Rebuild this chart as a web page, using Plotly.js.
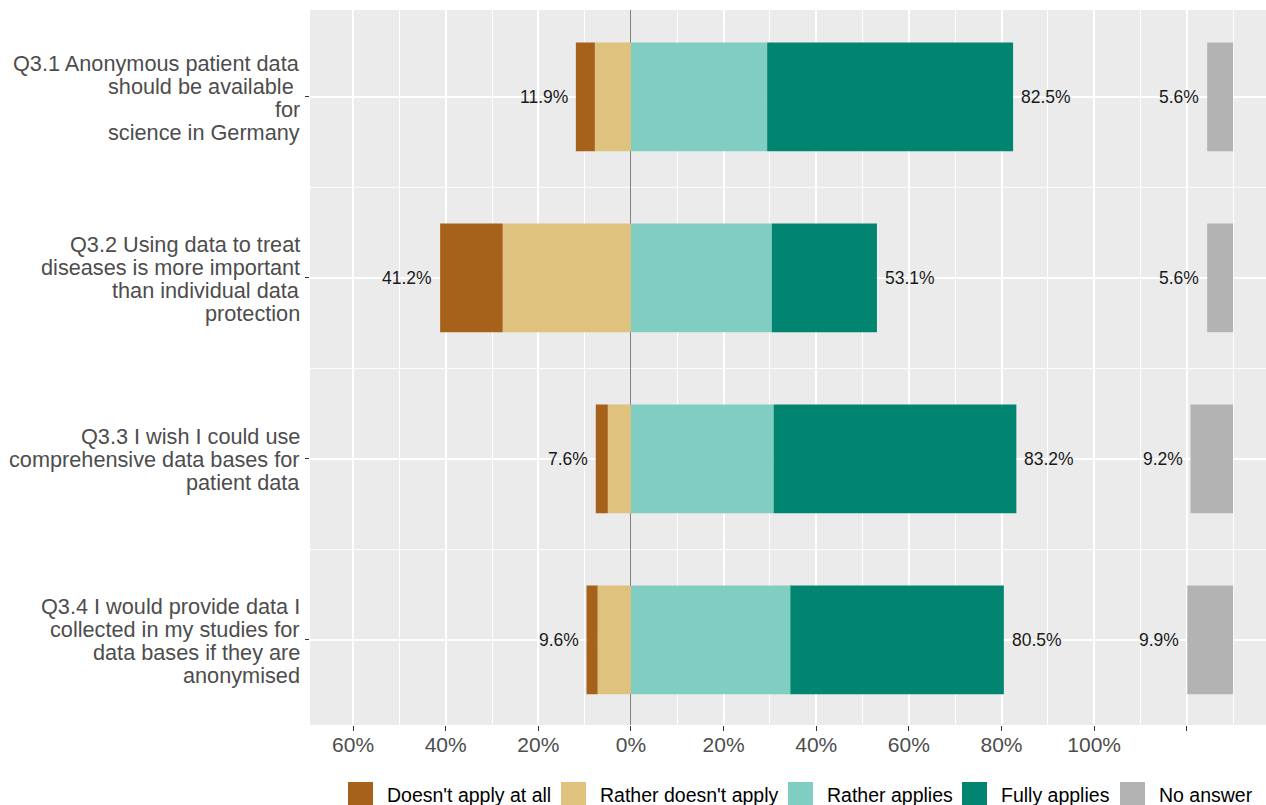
<!DOCTYPE html>
<html>
<head>
<meta charset="utf-8">
<script src="https://cdn.plot.ly/plotly-3.0.1.min.js"></script>
<style>
  html, body { margin: 0; padding: 0; background: #ffffff; }
  #chart { width: 1266px; height: 805px; }
</style>
</head>
<body>
<div id="chart"></div>
<script>
// ---- Data (percent of respondents) ----
const categories = [
  "Q3.1 Anonymous patient data<br>should be available\u00a0<br>for<br>science in Germany",
  "Q3.2 Using data to treat<br>diseases is more important<br>than individual data<br>protection",
  "Q3.3 I wish I could use<br>comprehensive data bases for<br>patient data",
  "Q3.4 I would provide data I<br>collected in my studies for<br>data bases if they are<br>anonymised"
];
const doesntApplyAtAll  = [4.1, 13.5, 2.6, 2.4];
const ratherDoesntApply = [7.8, 27.7, 5.0, 7.2];
const ratherApplies     = [29.4, 30.4, 30.8, 34.4];
const fullyApplies      = [53.1, 22.7, 52.4, 46.1];
const noAnswer          = [5.6, 5.6, 9.2, 9.9];

const legendNames = ["Doesn't apply at all", "Rather doesn't apply", "Rather applies", "Fully applies", "No answer"];
const legendColors = ["#A6611A", "#DFC27D", "#80CDC1", "#018571", "#B3B3B3"];

const xTickVals = [-60, -40, -20, 0, 20, 40, 60, 80, 100, 120];
const xTickText = ["60%", "40%", "20%", "0%", "20%", "40%", "60%", "80%", "100%", ""];
const xMinorVals = [-70, -50, -30, -10, 10, 30, 50, 70, 90, 110, 130];

// "No answer" bars are drawn in a right-hand block ending at this axis value
const NA_END = 130;

// ---- Geometry helpers (layout only) ----
const W = 1266, H = 805;
const M = { l: 310, r: 0, t: 10, b: 80 };
const PW = W - M.l - M.r, PH = H - M.t - M.b;
const px2paperX = px => (px - M.l) / PW;
const px2paperY = py => (H - M.b - py) / PH;
const FONT = "Liberation Sans, Arial, sans-serif";

const fmt = v => v.toFixed(1) + "%";
const BAR_W = 0.6;

function barTrace(name, color, values, bases) {
  return {
    type: "bar", orientation: "h", name: name,
    y: categories, x: values, base: bases,
    width: BAR_W,
    marker: { color: color, line: { width: 0 } },
    hoverinfo: "skip", showlegend: false
  };
}

const negInner = ratherDoesntApply.map(v => -v);
const negOuterBase = categories.map((_, i) => -(ratherDoesntApply[i] + doesntApplyAtAll[i]));
const zeros = categories.map(() => 0);
const naBase = noAnswer.map(v => NA_END - v);

const traces = [
  barTrace(legendNames[1], legendColors[1], ratherDoesntApply, negInner),
  barTrace(legendNames[0], legendColors[0], doesntApplyAtAll, negOuterBase),
  barTrace(legendNames[2], legendColors[2], ratherApplies, zeros),
  barTrace(legendNames[3], legendColors[3], fullyApplies, ratherApplies),
  barTrace(legendNames[4], legendColors[4], noAnswer, naBase)
];

// ---- Value annotations ----
const annotations = [];
const valFont = { family: FONT, size: 17.5, color: "#1a1a1a" };
categories.forEach((c, i) => {
  const neg = doesntApplyAtAll[i] + ratherDoesntApply[i];
  const pos = ratherApplies[i] + fullyApplies[i];
  annotations.push({ x: -neg, y: c, xref: "x", yref: "y", text: fmt(neg), showarrow: false,
    xanchor: "right", yanchor: "middle", xshift: -6, font: valFont });
  annotations.push({ x: pos, y: c, xref: "x", yref: "y", text: fmt(pos), showarrow: false,
    xanchor: "left", yanchor: "middle", xshift: 6, font: valFont });
  annotations.push({ x: NA_END - noAnswer[i], y: c, xref: "x", yref: "y", text: fmt(noAnswer[i]), showarrow: false,
    xanchor: "right", yanchor: "middle", xshift: -6, font: valFont });
});

// ---- Category labels (one text line each, tight line spacing like the reference) ----
const LABEL_LINE = 23;
categories.forEach(c => {
  const lines = c.split("<br>");
  const n = lines.length;
  lines.forEach((ln, j) => {
    annotations.push({ xref: "paper", yref: "y", x: 0, y: c, xshift: -8,
      yshift: -((j - (n - 1) / 2) * LABEL_LINE) - 1,
      text: ln, showarrow: false, xanchor: "right", yanchor: "middle",
      font: { family: FONT, size: 21.7, color: "#4D4D4D" } });
  });
});

// ---- Custom legend (large keys as in the reference) ----
const legendKeyX = [348, 561, 788, 962, 1120];
const KEY = 25, KEY_TOP = 782, TEXT_DX = 37;
const shapes = [];
legendNames.forEach((n, i) => {
  shapes.push({ type: "rect", xref: "paper", yref: "paper",
    x0: px2paperX(legendKeyX[i]), x1: px2paperX(legendKeyX[i] + KEY),
    y0: px2paperY(KEY_TOP), y1: px2paperY(KEY_TOP + KEY),
    fillcolor: legendColors[i], line: { width: 0 } });
  annotations.push({ xref: "paper", yref: "paper",
    x: px2paperX(legendKeyX[i] + TEXT_DX), y: px2paperY(KEY_TOP + KEY / 2 + 1),
    text: n, showarrow: false, xanchor: "left", yanchor: "middle",
    font: { family: FONT, size: 19.5, color: "#000000" } });
});

// minor horizontal grid lines between categories
[0.5, 1.5, 2.5].forEach(v => {
  shapes.push({ type: "line", xref: "paper", yref: "y", x0: 0, x1: 1, y0: v, y1: v,
    layer: "below", line: { color: "#ffffff", width: 1 } });
});

const layout = {
  width: W, height: H,
  margin: M,
  paper_bgcolor: "#ffffff",
  plot_bgcolor: "#EBEBEB",
  barmode: "overlay",
  showlegend: false,
  font: { family: FONT, color: "#4D4D4D" },
  xaxis: {
    range: [-69.3, 137.1],
    tickmode: "array", tickvals: xTickVals, ticktext: xTickText,
    ticks: "outside", ticklen: 5, tickwidth: 1, tickcolor: "#333333",
    ticklabelstandoff: -4,
    tickfont: { size: 21, color: "#4D4D4D" },
    showgrid: true, gridcolor: "#FFFFFF", gridwidth: 2,
    minor: { tickmode: "array", tickvals: xMinorVals, showgrid: true, gridcolor: "#FFFFFF", gridwidth: 1, ticks: "" },
    zeroline: true, zerolinecolor: "#808080", zerolinewidth: 1,
    showline: false, fixedrange: true
  },
  yaxis: {
    type: "category", categoryorder: "array", categoryarray: categories,
    range: [3.47, -0.48],
    ticks: "outside", ticklen: 4, tickwidth: 1, tickcolor: "#333333",
    showticklabels: false,
    showgrid: true, gridcolor: "#FFFFFF", gridwidth: 2,
    zeroline: false, showline: false, fixedrange: true
  },
  shapes: shapes,
  annotations: annotations
};

Plotly.newPlot("chart", traces, layout, { displayModeBar: false, staticPlot: true });
</script>
</body>
</html>
